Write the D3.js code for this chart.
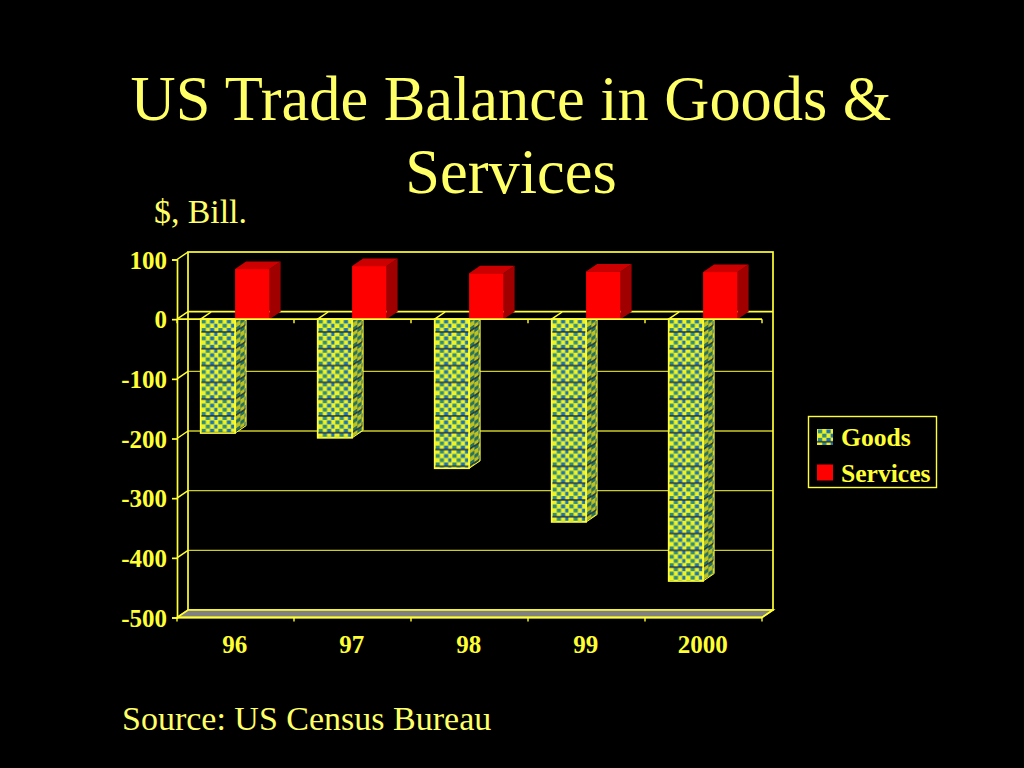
<!DOCTYPE html>
<html><head><meta charset="utf-8">
<script src="https://d3js.org/d3.v7.min.js"></script>
<style>html,body{margin:0;padding:0;background:#000;overflow:hidden}svg{display:block}text{font-family:"Liberation Serif","Times New Roman",serif}</style>
</head><body><div id="c"></div>
<script>
const categories = ["96","97","98","99","2000"];
const seriesNames = ["Goods","Services"];
const goods = [-191,-199,-250,-340,-439];
const services = [84,89,77,80,79];
const yTicks = [100,0,-100,-200,-300,-400,-500];
const titleLines = ["US Trade Balance in Goods &","Services"];
const unitLabel = "$, Bill.";
const sourceLabel = "Source: US Census Bureau";

const YEL="#FFFF33", TXT="#FFFF66";
const dx=11, dy=7.5;
const svg=d3.select("#c").append("svg").attr("width",1024).attr("height",768);
svg.append("rect").attr("width",1024).attr("height",768).attr("fill","#000");

const x=d3.scaleBand().domain(categories).range([177,762]);
const xi=d3.scaleBand().domain(seriesNames).range([-0.4,x.bandwidth()-0.4]).paddingInner(0).paddingOuter(24/34.5);
const y=d3.scaleLinear().domain([-500,100]).range([617.5,259.5]);

// Patterns
const defs=svg.append("defs");
function mk(id,transform,dark){
  const p=defs.append("pattern").attr("id",id).attr("patternUnits","userSpaceOnUse")
    .attr("width",16.8).attr("height",16.8);
  if(transform)p.attr("patternTransform",transform);
  p.append("rect").attr("width",16.8).attr("height",16.8).attr("fill","#EEF226");
  const blobs=[[1,2.5],[9.4,2.5],[5.2,6.7],[13.6,6.7],[1,10.9],[9.4,10.9],[5.2,15],[13.6,15]];
  blobs.forEach(([a,b],i)=>{
    p.append("rect").attr("x",a).attr("y",b-2).attr("width",4.2).attr("height",3.8)
      .attr("fill",i%2?"#1C74B0":"#2F8C7C");
  });
  p.append("rect").attr("x",0).attr("y",12.2).attr("width",16.8).attr("height",1.2).attr("fill","#06124E");
  if(dark)p.append("rect").attr("width",16.8).attr("height",16.8).attr("fill","#000").attr("opacity",dark);
}

const gBack=svg.append("g"), gBars=svg.append("g"), gAxis=svg.append("g");
const pts=a=>a.map(d=>d.join(",")).join(" ");
const x0=x.range()[0], x1=x.range()[1];

// back wall + gridlines
gBack.append("rect").attr("x",x0+dx).attr("y",y(100)-dy).attr("width",x1-x0).attr("height",y(-500)-y(100))
  .attr("fill","none").attr("stroke",YEL).attr("stroke-width",1.7);
gBack.selectAll("line.grid").data(yTicks.slice(1,-1)).join("line").attr("class","grid")
  .attr("x1",x0+dx).attr("x2",x1+dx).attr("y1",d=>y(d)-dy).attr("y2",d=>y(d)-dy)
  .attr("stroke",YEL).attr("stroke-width",d=>d===0?1.8:1.3).attr("opacity",d=>d===0?1:0.8);
// left side wall diagonals
gBack.selectAll("line.diag").data(yTicks).join("line").attr("class","diag")
  .attr("x1",x0).attr("x2",x0+dx).attr("y1",d=>y(d)).attr("y2",d=>y(d)-dy)
  .attr("stroke",YEL).attr("stroke-width",1.5);
// floor
gBack.append("polygon").attr("points",pts([[x0,y(-500)],[x1,y(-500)],[x1+dx,y(-500)-dy],[x0+dx,y(-500)-dy]]))
  .attr("fill","#808080").attr("stroke",YEL).attr("stroke-width",1.6);

// Bars
categories.forEach((c,i)=>{
  const gx=x(c)+xi("Goods"), gw=xi.bandwidth(), g0=y(0), g1=y(goods[i]);
  const id="pSide"+i;
  mk(id,`translate(${gx+gw} ${g0}) skewY(${-Math.atan(dy/dx)*180/Math.PI})`,0.2);
  const gg=gBars.append("g");
  gg.append("polygon").attr("points",pts([[gx+gw,g0],[gx+gw+dx,g0-dy],[gx+gw+dx,g1-dy],[gx+gw,g1]]))
    .attr("fill",`url(#${id})`).attr("stroke",YEL).attr("stroke-width",1);
  gg.append("polygon").attr("points",pts([[gx,g0],[gx+dx,g0-dy],[gx+gw+dx,g0-dy],[gx+gw,g0]]))
    .attr("fill","#000").attr("stroke",YEL).attr("stroke-width",1.5);
  const fid="pFront"+i;
  mk(fid,`translate(${gx} ${g0})`,0);
  gg.append("rect").attr("x",gx).attr("y",g0).attr("width",gw).attr("height",g1-g0)
    .attr("fill",`url(#${fid})`).attr("stroke",YEL).attr("stroke-width",1.5);
  const sx=x(c)+xi("Services"), sw=xi.bandwidth(), s1=y(services[i]);
  const sg=gBars.append("g");
  sg.append("polygon").attr("points",pts([[sx+sw,g0],[sx+sw+dx,g0-dy],[sx+sw+dx,s1-dy],[sx+sw,s1]])).attr("fill","#A00000");
  sg.append("polygon").attr("points",pts([[sx,s1],[sx+dx,s1-dy],[sx+sw+dx,s1-dy],[sx+sw,s1]])).attr("fill","#CC0000");
  sg.append("rect").attr("x",sx).attr("y",s1).attr("width",sw).attr("height",g0-s1).attr("fill","#FF0000");
});

// front axes
const ax=d3.axisLeft(y).tickValues(yTicks).tickSize(5).tickPadding(5).tickFormat(d=>String(d));
const ag=gAxis.append("g").attr("transform",`translate(${x0},0)`).call(ax);
ag.select(".domain").attr("stroke",YEL).attr("stroke-width",1.7);
ag.selectAll(".tick line").attr("stroke",YEL).attr("stroke-width",1.7);
ag.selectAll("text").attr("fill",YEL).attr("font-size",25).attr("font-weight","bold").attr("y",0.6).style("font-family",'"Liberation Serif",serif');
gAxis.append("line").attr("x1",x0).attr("x2",x1).attr("y1",y(0)).attr("y2",y(0)).attr("stroke",YEL).attr("stroke-width",1.8);
gAxis.append("line").attr("x1",x0).attr("x2",x1).attr("y1",y(-500)).attr("y2",y(-500)).attr("stroke",YEL).attr("stroke-width",1.8);
const edges=d3.range(categories.length+1).map(i=>x0+i*x.step());
[y(0),y(-500)].forEach(yy=>{
  gAxis.selectAll(null).data(edges).join("line").attr("x1",d=>d).attr("x2",d=>d).attr("y1",yy).attr("y2",yy+4)
    .attr("stroke",YEL).attr("stroke-width",1.4);
});
gAxis.append("line").attr("x1",x1).attr("x2",x1+dx).attr("y1",y(-500)).attr("y2",y(-500)-dy).attr("stroke",YEL).attr("stroke-width",1.5);
gAxis.selectAll("text.cat").data(categories).join("text").attr("class","cat")
  .attr("x",d=>x(d)+x.bandwidth()/2-0.8).attr("y",653).attr("text-anchor","middle")
  .attr("fill",YEL).attr("font-size",25).attr("font-weight","bold").text(d=>d);

// Text
svg.selectAll("text.title").data(titleLines).join("text").attr("class","title")
  .attr("x",511).attr("y",(d,i)=>120+i*73).attr("text-anchor","middle")
  .attr("fill",TXT).attr("font-size",62.4).text(d=>d);
svg.append("text").attr("x",154).attr("y",223).attr("fill",TXT).attr("font-size",33.8).text(unitLabel);
svg.append("text").attr("x",122).attr("y",730).attr("fill",TXT).attr("font-size",34).text(sourceLabel);

// Legend
const lg=svg.append("g");
lg.append("rect").attr("x",808.5).attr("y",416.5).attr("width",128).attr("height",71).attr("fill","#000").attr("stroke",YEL).attr("stroke-width",1.4);
mk("pLeg","translate(817 429)",0);
seriesNames.forEach((s,i)=>{
  const yy=429+i*35.5;
  lg.append("rect").attr("x",817).attr("y",yy).attr("width",16).attr("height",16).attr("fill",i?"#FF0000":"url(#pLeg)");
  lg.append("text").attr("x",841).attr("y",yy+17).attr("fill",YEL).attr("font-size",25.6).attr("font-weight","bold").text(s);
});
</script></body></html>
